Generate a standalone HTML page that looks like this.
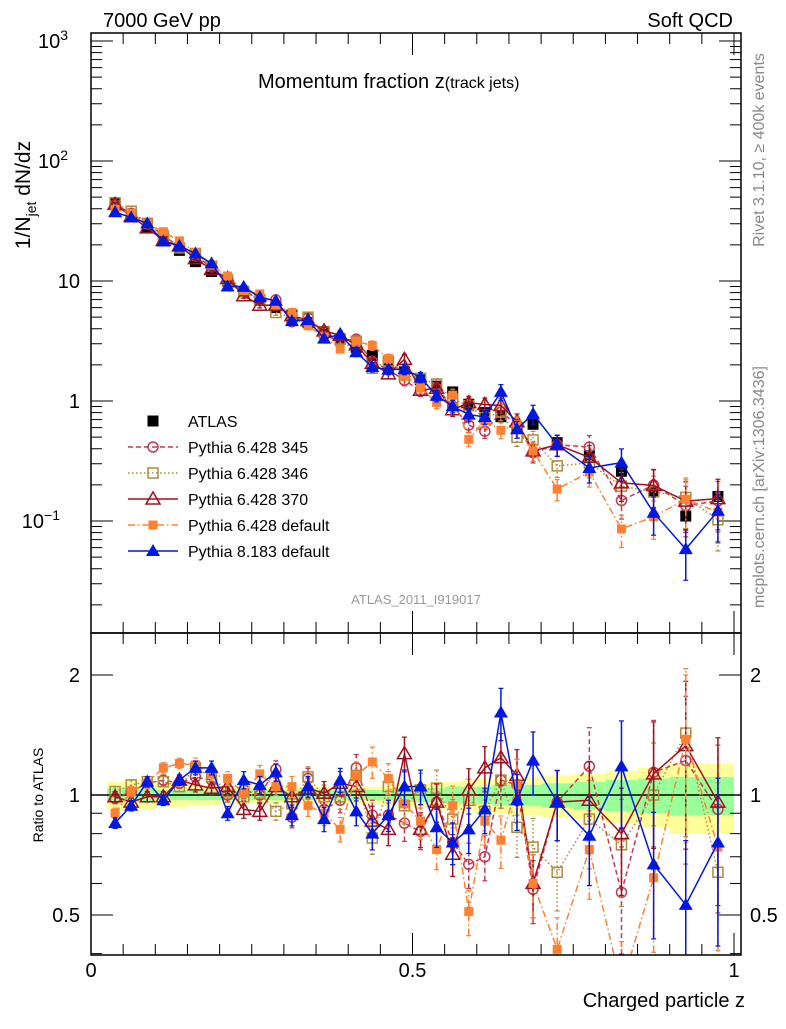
<!DOCTYPE html>
<html><head><meta charset="utf-8"><style>
body{margin:0;background:#fff;}
svg{font-family:"Liberation Sans",Arial,sans-serif;}
</style></head><body>
<svg id="c" width="786" height="1024" xmlns="http://www.w3.org/2000/svg">
<defs>
<clipPath id="cm"><rect x="91" y="33" width="650" height="600"/></clipPath>
<clipPath id="cr"><rect x="91" y="633" width="650" height="322"/></clipPath>
</defs>
<rect x="0" y="0" width="786" height="1024" fill="#fff"/>
<g id="bands" clip-path="url(#cr)"></g>
<g id="grid"></g>
<g id="main" clip-path="url(#cm)"></g>
<g id="ratio" clip-path="url(#cr)"></g>
<rect x="91" y="33" width="650" height="600" fill="none" stroke="#000" stroke-width="1.5"/>
<rect x="91" y="633" width="650" height="322" fill="none" stroke="#000" stroke-width="1.5"/>
<text x="103" y="27" font-size="20">7000 GeV pp</text>
<text x="733" y="27" font-size="20" text-anchor="end">Soft QCD</text>
<text x="258" y="88" font-size="20">Momentum fraction z<tspan font-size="16">(track jets)</tspan></text>
<text transform="translate(30,195) rotate(-90)" font-size="21" text-anchor="middle">1/N<tspan font-size="14" dy="6">jet</tspan><tspan dy="-6"> dN/dz</tspan></text>
<text transform="translate(43,795) rotate(-90)" font-size="14" text-anchor="middle">Ratio to ATLAS</text>
<text x="745" y="1007" font-size="20" text-anchor="end">Charged particle z</text>
<text transform="translate(764,150) rotate(-90)" font-size="16" fill="#888" text-anchor="middle">Rivet 3.1.10, ≥ 400k events</text>
<text transform="translate(764,487) rotate(-90)" font-size="16" fill="#888" text-anchor="middle">mcplots.cern.ch [arXiv:1306.3436]</text>
<text x="416" y="604" font-size="13" fill="#999" text-anchor="middle">ATLAS_2011_I919017</text>
<g id="legend"></g>
</svg>
<script>
const zVals=[0.0375,0.0625,0.0875,0.1125,0.1375,0.1625,0.1875,0.2125,0.2375,0.2625,0.2875,0.3125,0.3375,0.3625,0.3875,0.4125,0.4375,0.4625,0.4875,0.5125,0.5375,0.5625,0.5875,0.6125,0.6375,0.6625,0.6875,0.725,0.775,0.825,0.875,0.925,0.975];
const atlas=[44,36,28,22,18,14.5,12,10,8.2,6.9,6.0,5.2,4.5,3.8,3.3,2.8,2.4,2.05,1.75,1.5,1.33,1.19,0.94,0.80,0.74,0.60,0.64,0.45,0.35,0.26,0.175,0.11,0.16];
const r345=[0.98,1.02,1.07,1.09,1.07,1.11,1.09,1.0,1.03,1.0,1.16,0.88,1.1,0.92,0.97,1.17,0.89,0.89,0.85,0.81,0.96,0.76,0.67,0.70,1.09,1.06,0.58,0.96,1.18,0.57,1.14,1.22,0.92];
const r346=[1.02,1.06,1.08,1.08,1.05,1.17,1.11,1.02,0.99,1.01,0.91,0.95,1.11,0.99,0.99,1.12,0.78,1.05,0.94,1.03,1.04,0.87,0.97,0.91,1.09,0.83,0.74,0.64,0.87,0.75,1.0,1.43,0.64];
const r370=[0.99,0.96,0.99,0.99,1.09,1.06,1.04,1.05,0.92,0.91,1.05,0.99,1.04,1.01,1.07,1.05,0.86,0.82,1.27,0.82,0.96,0.71,1.03,1.17,1.24,1.12,0.60,0.96,0.97,0.80,1.13,1.33,0.96];
const r6def=[0.90,1.02,1.07,1.17,1.20,1.19,1.13,1.1,1.01,1.13,1.05,1.05,0.94,0.90,0.82,1.12,1.21,1.1,0.95,0.86,0.73,0.94,0.51,0.86,0.77,1.06,0.60,0.41,0.73,0.33,0.62,1.38,0.74];
const r8=[0.85,0.94,1.08,0.97,1.09,1.17,1.17,0.90,1.09,1.06,1.14,0.89,1.05,0.87,1.09,0.91,0.80,0.89,1.05,1.05,0.83,0.76,0.82,0.92,1.61,0.97,1.22,0.96,0.79,1.18,0.67,0.53,0.76];
const mcErr=[0.03,0.03,0.03,0.03,0.03,0.04,0.04,0.04,0.05,0.05,0.05,0.06,0.06,0.07,0.07,0.08,0.09,0.09,0.1,0.1,0.11,0.12,0.13,0.13,0.15,0.16,0.18,0.2,0.25,0.3,0.35,0.45,0.45];
const bandYellow=[0.08,0.09,0.08,0.07,0.07,0.06,0.06,0.05,0.05,0.05,0.05,0.05,0.05,0.05,0.05,0.05,0.05,0.06,0.07,0.07,0.08,0.08,0.09,0.1,0.1,0.11,0.11,0.12,0.13,0.15,0.17,0.2,0.2];
const bandGreen=[0.04,0.04,0.04,0.03,0.03,0.03,0.03,0.03,0.03,0.03,0.03,0.03,0.03,0.03,0.03,0.03,0.03,0.03,0.04,0.04,0.04,0.05,0.05,0.05,0.06,0.06,0.06,0.07,0.08,0.09,0.1,0.11,0.11];
const binEdges=[0.025,0.05,0.075,0.1,0.125,0.15,0.175,0.2,0.225,0.25,0.275,0.3,0.325,0.35,0.375,0.4,0.425,0.45,0.475,0.5,0.525,0.55,0.575,0.6,0.625,0.65,0.675,0.7,0.75,0.8,0.85,0.9,0.95,1.0];

const NS="http://www.w3.org/2000/svg";
const X=z=>91+643*z;
const YM=v=>401-120*Math.log10(v);
const YR=r=>795-120*Math.log2(r);
function mk(tag,attrs,parent){const e=document.createElementNS(NS,tag);for(const k in attrs)e.setAttribute(k,attrs[k]);parent.appendChild(e);return e;}
const G=id=>document.getElementById(id);

for(let i=0;i<zVals.length;i++){
  const x0=X(binEdges[i]),x1=X(binEdges[i+1]);
  const y=mk('rect',{x:x0,y:YR(1+bandYellow[i]),width:x1-x0,height:YR(1-bandYellow[i])-YR(1+bandYellow[i]),fill:'#ffff99'},G('bands'));
  
  
  const g=mk('rect',{x:x0,y:YR(1+bandGreen[i]),width:x1-x0,height:YR(1-bandGreen[i])-YR(1+bandGreen[i]),fill:'#99ff99'},G('bands'));
  
  
}
const gr=G('grid');
function ln(x1,y1,x2,y2,w){mk('line',{x1,y1,x2,y2,stroke:'#000','stroke-width':w||1},gr);}
for(let d=-2;d<=3;d++){for(let m=1;m<10;m++){const v=m*Math.pow(10,d);const y=YM(v);if(y<33||y>633)continue;const L=m==1?22:11;ln(91,y,91+L,y);ln(741,y,741-L,y);}}
for(let k=0;k<=20;k++){const x=X(k*0.05);const L=k%10==0?22:11;ln(x,633,x,633-L);ln(x,33,x,33+L);ln(x,955,x,955-L);ln(x,633,x,633+L);}
[0.4,0.5,0.6,0.7,0.8,0.9,1,2].forEach(r=>{const y=YR(r);if(y<633||y>955)return;const L=(r==1||r==2||r==0.5)?22:11;ln(91,y,91+L,y);ln(741,y,741-L,y);});
ln(91,795,741,795,1.5);
function tx(x,y,s,anchor,size,name){const t=mk('text',{x,y,'font-size':size,'text-anchor':anchor},gr);t.textContent=s;return t;}
[[3,'10','3'],[2,'10','2'],[1,'10',''],[0,'1',''],[-1,'10','−1']].forEach(([d,b,e])=>{const t=tx(e?70:80,YM(Math.pow(10,d))+7,b,'end',20,'y-tick-label');if(e){const s=document.createElementNS(NS,'tspan');s.setAttribute('font-size','14');s.setAttribute('dy','-8');s.textContent=e;t.appendChild(s);t.setAttribute('x',e.length>1?60:68);}});
[[2,'2'],[1,'1'],[0.5,'0.5']].forEach(([r,s])=>{tx(80,YR(r)+7,s,'end',20,'ratio-tick-label');tx(750,YR(r)+7,s,'start',20,'ratio-tick-label-right');});
[[0,'0'],[0.5,'0.5'],[1,'1']].forEach(([z,s])=>tx(X(z),977,s,'middle',20,'x-tick-label'));

const series=[
 {name:'pythia-6428-345',label:'Pythia 6.428 345',r:r345,col:'#c03a50',dash:'5,3',mk:'circle'},
 {name:'pythia-6428-346',label:'Pythia 6.428 346',r:r346,col:'#b08a3a',dash:'1.5,2.5',mk:'osq'},
 {name:'pythia-6428-370',label:'Pythia 6.428 370',r:r370,col:'#a01020',dash:'',mk:'otri'},
 {name:'pythia-6428-default',label:'Pythia 6.428 default',r:r6def,col:'#ff8030',dash:'7,3,1.5,3',mk:'fsq'},
 {name:'pythia-8183-default',label:'Pythia 8.183 default',r:r8,col:'#0018e0',dash:'',mk:'ftri'}];
function marker(g,type,x,y,col){
 let e;
 if(type=='circle')e=mk('circle',{cx:x,cy:y,r:5,fill:'none',stroke:col,'stroke-width':1.5},g);
 else if(type=='osq')e=mk('rect',{x:x-5,y:y-5,width:10,height:10,fill:'none',stroke:col,'stroke-width':1.5},g);
 else if(type=='fsq')e=mk('rect',{x:x-4.5,y:y-4.5,width:9,height:9,fill:col},g);
 else if(type=='bsq')e=mk('rect',{x:x-5.5,y:y-5.5,width:11,height:11,fill:'#000'},g);
 else if(type=='otri')e=mk('polygon',{points:`${x},${y-7} ${x-7},${y+5} ${x+7},${y+5}`,fill:'none',stroke:col,'stroke-width':1.5},g);
 else e=mk('polygon',{points:`${x},${y-7} ${x-7},${y+5} ${x+7},${y+5}`,fill:col},g);
 return e;
}
function drawSeries(gid,s,Yf,vals,errLo,errHi){
 const g=mk('g',{},G(gid));
 
 
 const pts=vals.map((v,i)=>X(zVals[i])+','+Yf(v)).join(' ');
 const pl=mk('polyline',{points:pts,fill:'none',stroke:s.col,'stroke-width':1.5,'stroke-dasharray':s.dash},g);
 
 
 vals.forEach((v,i)=>{
  const x=X(zVals[i]);
  mk('line',{x1:x,y1:Yf(errLo[i]),x2:x,y2:Yf(errHi[i]),stroke:s.col,'stroke-width':1.5,'stroke-dasharray':s.dash},g);
  mk('line',{x1:x-2.5,y1:Yf(errLo[i]),x2:x+2.5,y2:Yf(errLo[i]),stroke:s.col,'stroke-width':1.2},g);
  mk('line',{x1:x-2.5,y1:Yf(errHi[i]),x2:x+2.5,y2:Yf(errHi[i]),stroke:s.col,'stroke-width':1.2},g);
  const m=marker(g,s.mk,x,Yf(v),s.col);
  
  
 });
}
const ga=mk('g',{},G('main'));


atlas.forEach((v,i)=>{const m=marker(ga,'bsq',X(zVals[i]),YM(v),'#000');});
series.forEach(s=>{
 const mv=s.r.map((r,i)=>atlas[i]*r);
 drawSeries('main',s,YM,mv,mv.map((v,i)=>v*(1-Math.min(mcErr[i],0.9))),mv.map((v,i)=>v*(1+mcErr[i])));
 drawSeries('ratio',s,YR,s.r,s.r.map((v,i)=>v*(1-Math.min(mcErr[i],0.9))),s.r.map((v,i)=>v*(1+mcErr[i])));
});
const lg=G('legend');
const le=mk('g',{},lg);


marker(le,'bsq',153,421,'#000');
const t0=mk('text',{x:188,y:427,'font-size':16},le);t0.textContent='ATLAS';
series.forEach((s,i)=>{
 const y=447+26*i;
 const e=mk('g',{},lg);
 
 
 mk('line',{x1:128,y1:y,x2:178,y2:y,stroke:s.col,'stroke-width':1.5,'stroke-dasharray':s.dash},e);
 marker(e,s.mk,153,y,s.col);
 const t=mk('text',{x:188,y:y+6,'font-size':16},e);t.textContent=s.label;
});
</script>
</body></html>
